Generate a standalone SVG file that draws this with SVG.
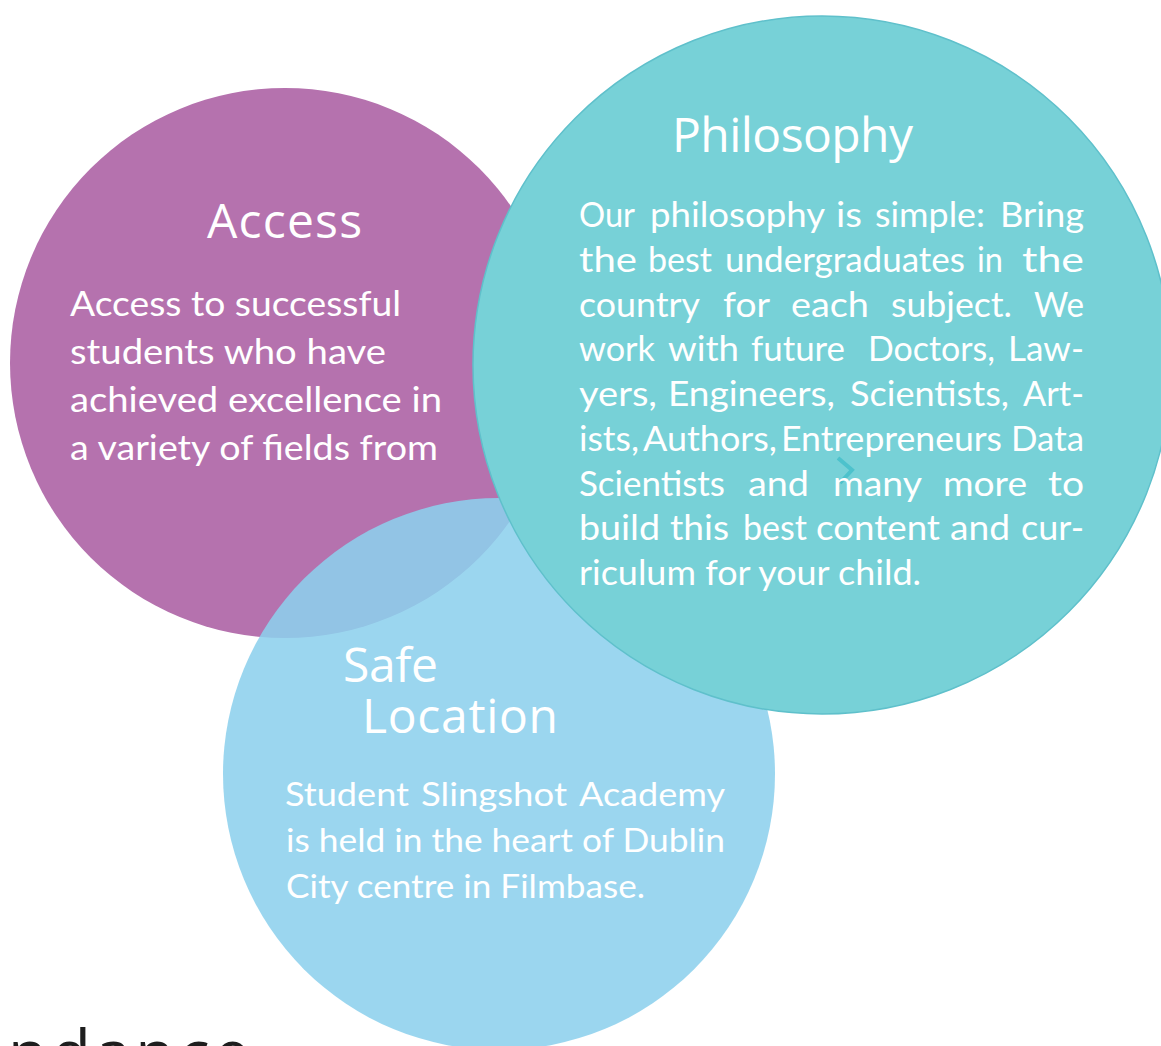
<svg xmlns="http://www.w3.org/2000/svg" width="1161" height="1046" viewBox="0 0 1161 1046">
<style>
.title{font-family:"Open Sans","Noto Sans",sans-serif;font-size:48px;fill:#fff;}
.body{font-family:Lato,"Open Sans",sans-serif;fill:#fff;}
.b1{font-size:34px;}
.b2{font-size:34px;}
.b3{font-size:33px;}
</style>
<rect width="1161" height="1046" fill="#fff"/>
<g id="access">
<circle cx="285" cy="363" r="275" fill="#b572ae"/>
<text class="title" x="207" y="238" textLength="155" lengthAdjust="spacing">Access</text>
<text class="body b1" x="70" y="316" textLength="331" lengthAdjust="spacingAndGlyphs">Access to successful</text>
<text class="body b1" x="70" y="364" textLength="316" lengthAdjust="spacingAndGlyphs">students who have</text>
<text class="body b1" x="70" y="412" textLength="372" lengthAdjust="spacingAndGlyphs">achieved excellence in</text>
<text class="body b1" x="70" y="460" textLength="368" lengthAdjust="spacingAndGlyphs">a variety of fields from</text>
</g>
<g id="safe-location">
<circle cx="499" cy="774" r="276" fill="#8cd0ed" fill-opacity="0.87"/>
<text class="title" x="343" y="682" textLength="95" lengthAdjust="spacing">Safe</text>
<text class="title" x="362" y="733" textLength="196" lengthAdjust="spacing">Location</text>
<text class="body b3" x="285" y="806" textLength="124" lengthAdjust="spacingAndGlyphs">Student</text>
<text class="body b3" x="421" y="806" textLength="146" lengthAdjust="spacingAndGlyphs">Slingshot</text>
<text class="body b3" x="579" y="806" textLength="146" lengthAdjust="spacingAndGlyphs">Academy</text>
<text class="body b3" x="286" y="852" textLength="439" lengthAdjust="spacingAndGlyphs">is held in the heart of Dublin</text>
<text class="body b3" x="286" y="898" textLength="359" lengthAdjust="spacingAndGlyphs">City centre in Filmbase.</text>
</g>
<g id="philosophy">
<circle cx="822" cy="365" r="349" fill="#77d1d7" stroke="#5fc0cb" stroke-width="1.5"/>
<text class="title" x="672" y="152" textLength="241" lengthAdjust="spacing">Philosophy</text>
<polyline points="838,458 852,470 840,483" fill="none" stroke="#4dc2cc" stroke-width="4"/>
<g class="body b2">
<text x="579" y="227" textLength="56" lengthAdjust="spacingAndGlyphs">Our</text>
<text x="650" y="227" textLength="175" lengthAdjust="spacingAndGlyphs">philosophy</text>
<text x="836" y="227" textLength="26" lengthAdjust="spacingAndGlyphs">is</text>
<text x="875" y="227" textLength="110" lengthAdjust="spacingAndGlyphs">simple:</text>
<text x="1000" y="227" textLength="84" lengthAdjust="spacingAndGlyphs">Bring</text>
<text x="579" y="272" textLength="58" lengthAdjust="spacingAndGlyphs">the</text>
<text x="648" y="272" textLength="64" lengthAdjust="spacingAndGlyphs">best</text>
<text x="725" y="272" textLength="240" lengthAdjust="spacingAndGlyphs">undergraduates</text>
<text x="977" y="272" textLength="26" lengthAdjust="spacingAndGlyphs">in</text>
<text x="1022" y="272" textLength="62" lengthAdjust="spacingAndGlyphs">the</text>
<text x="579" y="317" textLength="121" lengthAdjust="spacingAndGlyphs">country</text>
<text x="723" y="317" textLength="47" lengthAdjust="spacingAndGlyphs">for</text>
<text x="791" y="317" textLength="78" lengthAdjust="spacingAndGlyphs">each</text>
<text x="891" y="317" textLength="121" lengthAdjust="spacingAndGlyphs">subject.</text>
<text x="1034" y="317" textLength="50" lengthAdjust="spacingAndGlyphs">We</text>
<text x="579" y="361" textLength="76" lengthAdjust="spacingAndGlyphs">work</text>
<text x="668" y="361" textLength="71" lengthAdjust="spacingAndGlyphs">with</text>
<text x="751" y="361" textLength="94" lengthAdjust="spacingAndGlyphs">future</text>
<text x="868" y="361" textLength="127" lengthAdjust="spacingAndGlyphs">Doctors,</text>
<text x="1008" y="361" textLength="76" lengthAdjust="spacingAndGlyphs">Law-</text>
<text x="579" y="406" textLength="78" lengthAdjust="spacingAndGlyphs">yers,</text>
<text x="668" y="406" textLength="167" lengthAdjust="spacingAndGlyphs">Engineers,</text>
<text x="850" y="406" textLength="159" lengthAdjust="spacingAndGlyphs">Scientists,</text>
<text x="1023" y="406" textLength="61" lengthAdjust="spacingAndGlyphs">Art-</text>
<text x="579" y="451" textLength="60" lengthAdjust="spacingAndGlyphs">ists,</text>
<text x="643" y="451" textLength="134" lengthAdjust="spacingAndGlyphs">Authors,</text>
<text x="781" y="451" textLength="221" lengthAdjust="spacingAndGlyphs">Entrepreneurs</text>
<text x="1011" y="451" textLength="73" lengthAdjust="spacingAndGlyphs">Data</text>
<text x="579" y="496" textLength="146" lengthAdjust="spacingAndGlyphs">Scientists</text>
<text x="748" y="496" textLength="61" lengthAdjust="spacingAndGlyphs">and</text>
<text x="833" y="496" textLength="89" lengthAdjust="spacingAndGlyphs">many</text>
<text x="943" y="496" textLength="84" lengthAdjust="spacingAndGlyphs">more</text>
<text x="1048" y="496" textLength="36" lengthAdjust="spacingAndGlyphs">to</text>
<text x="579" y="540" textLength="81" lengthAdjust="spacingAndGlyphs">build</text>
<text x="670" y="540" textLength="59" lengthAdjust="spacingAndGlyphs">this</text>
<text x="743" y="540" textLength="64" lengthAdjust="spacingAndGlyphs">best</text>
<text x="816" y="540" textLength="124" lengthAdjust="spacingAndGlyphs">content</text>
<text x="950" y="540" textLength="60" lengthAdjust="spacingAndGlyphs">and</text>
<text x="1021" y="540" textLength="63" lengthAdjust="spacingAndGlyphs">cur-</text>
<text x="579" y="585" textLength="342" lengthAdjust="spacingAndGlyphs">riculum for your child.</text>
</g>
</g>
<g id="heading-fragment">
<text x="8" y="1076" font-family="Open Sans, sans-serif" font-size="64" fill="#1e1e1e" textLength="242" lengthAdjust="spacing">ndance</text>
</g>
</svg>
